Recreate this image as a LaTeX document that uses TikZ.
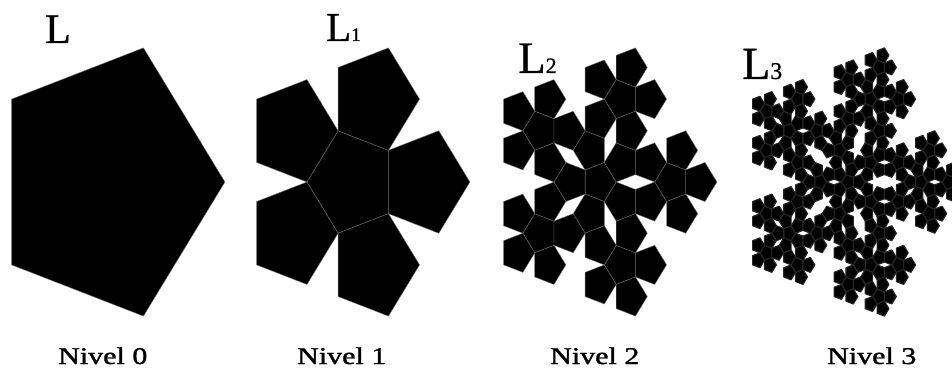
\documentclass[tikz,border=0pt]{standalone}
\usepackage{fontspec}
\setmainfont{Liberation Serif}
\newfontfamily\capfont[FakeBold=1.2]{Liberation Serif}
\newfontfamily\labfont[FakeBold=0.8]{Liberation Serif}
\usepackage{graphicx}

\tikzset{
  petal/.style={fill=black, draw=black!55, line width=0.35pt, line join=round},
  fine petal/.style={fill=black, draw=black!85, line width=1.1pt, line join=round},
  lvl/.style={anchor=base west, inner sep=0pt, text=black},
}

% Pentaflake of unit circumradius, tip pointing along +x.
% Level n: one rotated copy of level n-1 in the middle and five copies around it.
\newcommand\flakestyle{petal}
\newcommand\flake[1]{%
  \ifnum#1=0\relax
    \path[\flakestyle] (0:1) -- (72:1) -- (144:1) -- (216:1) -- (288:1) -- cycle;
  \else
    \pgfmathtruncatemacro\flakesub{#1-1}%
    \begin{scope}[scale=0.381966,rotate=180]\flake{\flakesub}\end{scope}%
    \foreach \k in {0,...,4}{%
      \begin{scope}[shift={(72*\k:0.618034)},scale=0.381966]\flake{\flakesub}\end{scope}}%
  \fi}

\newcommand\nivtext[1]{\scalebox{1.25}[1]{\capfont\fontsize{24}{24}\selectfont #1}}

\begin{document}
\begin{tikzpicture}[x=1pt,y=-1pt]
  \useasboundingbox (0,0) rectangle (952,374);
  \fill[white] (0,0) rectangle (952,374);

  \begin{scope}
    \clip (0,0) rectangle (952,374);
    \foreach \lev/\cx in {0/107,1/352,2/599}{%
      \begin{scope}[shift={(\cx,182)}, xscale=117.9, yscale=141]
        \flake{\lev}
      \end{scope}}
    % the smallest pieces are drawn with a heavier rim
    \renewcommand\flakestyle{fine petal}
    \begin{scope}[shift={(848,182)}, xscale=117.9, yscale=141]
      \flake{3}
    \end{scope}
  \end{scope}

  % level names above the figures
  \node[lvl] (tL0) at (45,43) {\labfont\fontsize{42}{42}\selectfont L};
  \node[lvl] (tL1) at (326,41) {\labfont\fontsize{41}{41}\selectfont L\fontsize{19}{19}\selectfont 1};
  \node[lvl] (tL2) at (518,73) {\labfont\fontsize{45}{45}\selectfont L\fontsize{22}{22}\selectfont 2};
  \node[lvl] (tL3) at (742,79) {\labfont\fontsize{46}{46}\selectfont L\fontsize{24}{24}\selectfont 3};

  % captions
  \node[lvl] (n0) at (58,364) {\nivtext{Nivel 0}};
  \node[lvl] (n1) at (297,364) {\nivtext{Nivel 1}};
  \node[lvl] (n2) at (550,364) {\nivtext{Nivel 2}};
  \node[lvl] (n3) at (827,364) {\nivtext{Nivel 3}};
\end{tikzpicture}
\end{document}
